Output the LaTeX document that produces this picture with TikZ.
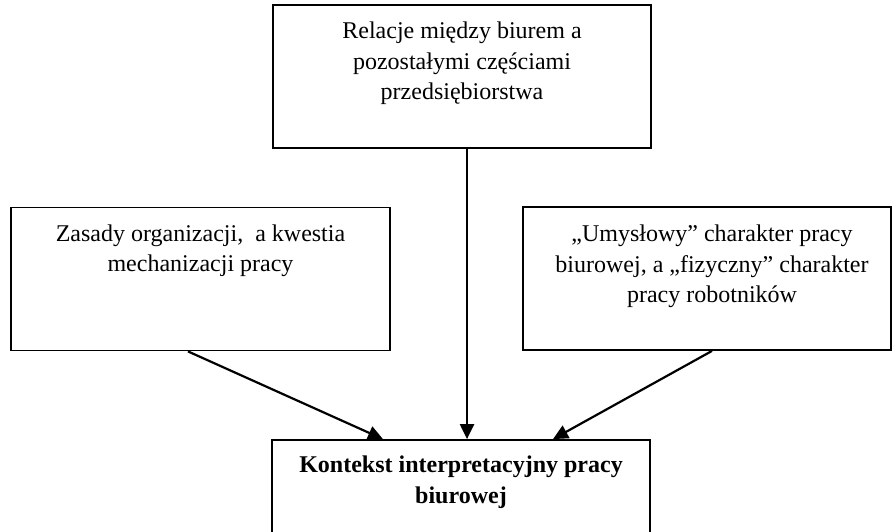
\documentclass[tikz,border=0pt]{standalone}
\usepackage{fontspec}
\setmainfont{Liberation Serif}
\usetikzlibrary{arrows.meta, positioning}

\begin{document}
\begin{tikzpicture}[
  x=0.5pt, y=-0.5pt,
  box/.style = {draw, line width=0.9pt, minimum height=71.5pt, inner sep=0pt},
  txt/.style = {font=\fontsize{12}{15.25}\selectfont, align=center, inner sep=0pt},
  txtbold/.style = {txt, font=\fontsize{12}{15.25}\selectfont\bfseries},
  arr/.style = {-{Triangle[length=7.5pt, width=7pt]}, line width=1.1pt}
]
  \useasboundingbox (0,0) rectangle (892,531);
  \clip (0,0) rectangle (892,531);

  % boxes
  \node[box, minimum width=189pt] (top) at (462,76.5) {};
  \node[box, minimum width=189.5pt] (left) at (200.5,279) {};
  \node[box, minimum width=184pt] (right) at (707,278.5) {};
  \node[box, minimum width=189pt] (bottom) at (461,511.5) {};

  % texts
  \node[txt, below=8.8pt of top.north] (toptxt) {Relacje między biurem a\\pozostałymi częściami\\przedsiębiorstwa};
  \node[txt, below=8.8pt of left.north] (lefttxt) {Zasady organizacji,~ a kwestia\\mechanizacji pracy};
  \node[txt, below=9.3pt of right.north, xshift=2.5pt] (righttxt) {„Umysłowy” charakter pracy\\biurowej, a „fizyczny” charakter\\pracy robotników};
  \node[txtbold, below=8.4pt of bottom.north] (bottomtxt) {Kontekst interpretacyjny pracy\\biurowej};

  % arrows
  \draw[arr] ([xshift=-6.25pt]left.south) -- ([xshift=-39pt]bottom.north);
  \draw[arr] ([xshift=2.5pt]top.south) -- ([xshift=3pt]bottom.north);
  \draw[arr] ([xshift=2.5pt]right.south) -- ([xshift=46pt]bottom.north);
\end{tikzpicture}
\end{document}
